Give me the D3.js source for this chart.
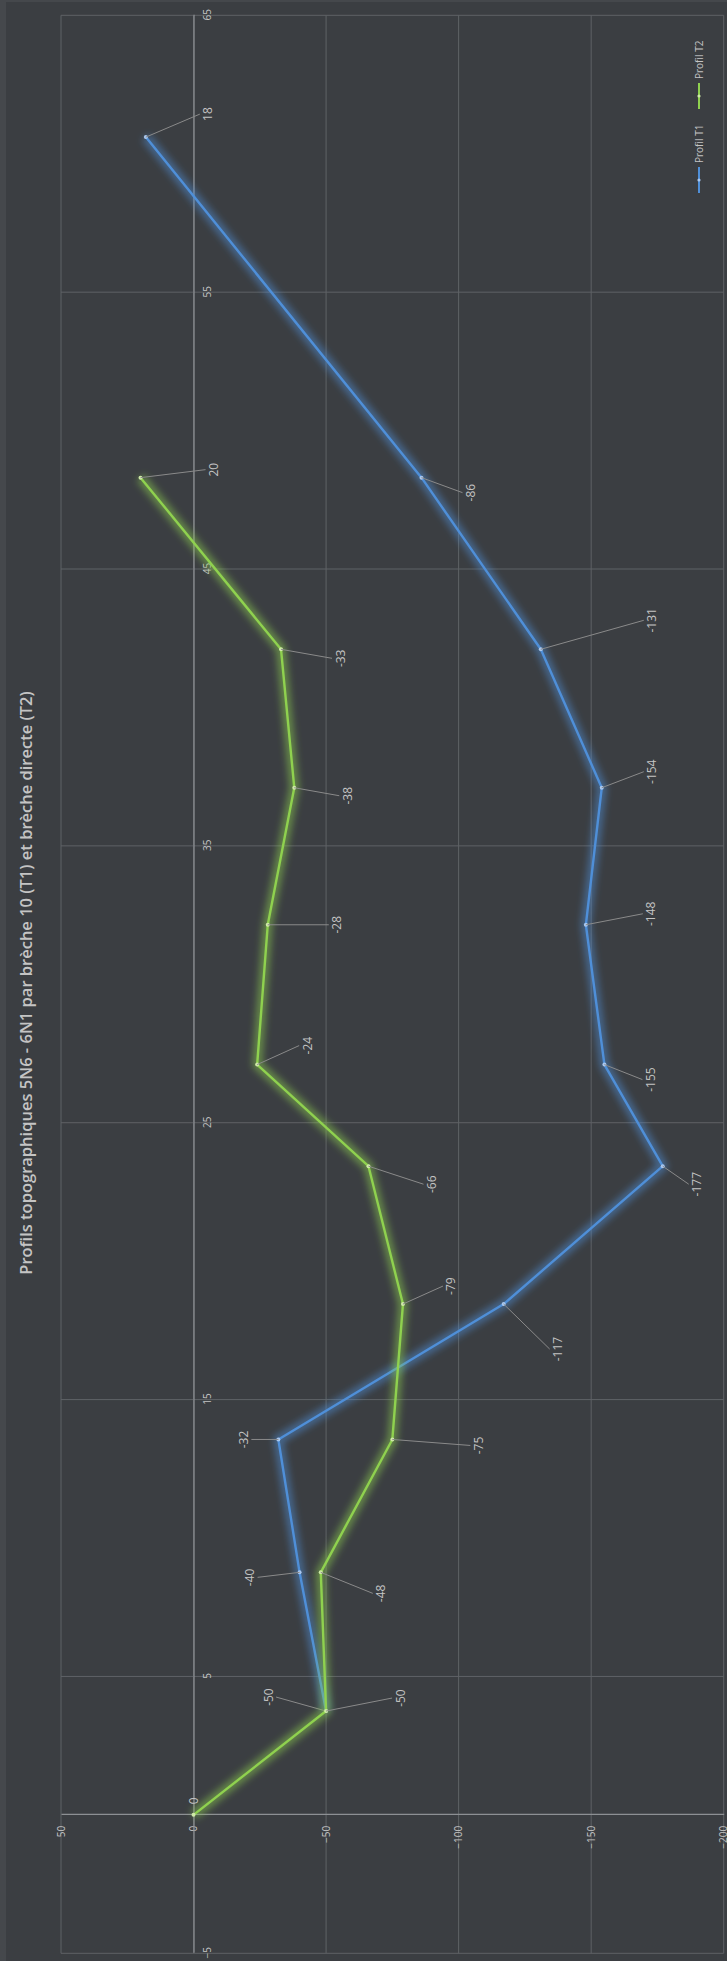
<!DOCTYPE html>
<html>
<head>
<meta charset="utf-8">
<script src="https://cdn.jsdelivr.net/npm/d3@7"></script>
<style>
  body { margin: 0; background: #45484c; }
  svg { display: block; }
  text { font-family: "Open Sans", sans-serif; fill: #c4c4c4; }
</style>
</head>
<body>
<div id="chart"></div>
<script>
// Profils topographiques - chart drawn landscape, then turned a quarter turn

const title = "Profils topographiques 5N6 - 6N1 par brèche 10 (T1) et brèche directe (T2)";

const t1Dist = [3.75, 8.76, 13.56, 18.45, 23.43, 27.1, 32.15, 37.1, 42.1, 48.3, 60.6];
const t1Elev = [-50, -40, -32, -117, -177, -155, -148, -154, -131, -86, 18];

const t2Dist = [0, 3.75, 8.76, 13.56, 18.45, 23.43, 27.1, 32.15, 37.1, 42.1, 48.3];
const t2Elev = [0, -50, -48, -75, -79, -66, -24, -28, -38, -33, 20];

const distTicks = [-5, 5, 15, 25, 35, 45, 55, 65];
const elevTicks = [50, 0, -50, -100, -150, -200];

// where each data label sits, as seen on the page (dx, dy from its point)
const t1LabelOffsets = [[-58, -14], [-50, 5], [-35, 0], [54, 45], [34, 18], [46, 15], [65, -11], [50, -16], [111, -29], [49, 15], [62, -23]];
const t2LabelOffsets = [[0, -14], [74, -13], [60, 21], [86, 6], [48, -18], [63, 18], [50, -19], [69, 0], [53, 8], [59, 9], [73, -8]];

const pageW = 727;
const pageH = 1961;

const svg = d3.select("#chart")
    .append("svg")
    .attr("width", pageW)
    .attr("height", pageH);

svg.append("rect")
    .attr("x", 6).attr("y", 2)
    .attr("width", pageW - 6).attr("height", pageH - 2)
    .attr("fill", "#3b3e42");

const defs = svg.append("defs");
defs.append("filter")
    .attr("id", "glow")
    .attr("filterUnits", "userSpaceOnUse")
    .attr("x", -100).attr("y", -100)
    .attr("width", 2200).attr("height", 1000)
    .append("feGaussianBlur")
    .attr("stdDeviation", 3.5);

// local frame: x runs along page height (bottom -> top), y along page width
const g = svg.append("g")
    .attr("transform", `translate(0, ${pageH}) rotate(-90)`);

const x = d3.scaleLinear().domain([-5, 65]).range([7.7, 1945.7]);
const y = d3.scaleLinear().domain([50, -200]).range([61, 723.7]);

// grid
g.append("g")
    .selectAll("line")
    .data(distTicks)
    .join("line")
    .attr("x1", d => x(d)).attr("x2", d => x(d))
    .attr("y1", y(50)).attr("y2", y(-200))
    .attr("stroke", "#5f6266")
    .attr("stroke-width", 1);

g.append("g")
    .selectAll("line")
    .data(elevTicks)
    .join("line")
    .attr("x1", x(-5)).attr("x2", x(65))
    .attr("y1", d => y(d)).attr("y2", d => y(d))
    .attr("stroke", "#5f6266")
    .attr("stroke-width", 1);

// axes crossing at 0
const yAxis = g.append("g")
    .attr("transform", `translate(${x(0)}, 0)`)
    .call(d3.axisLeft(y).tickValues(elevTicks).tickSize(0).tickPadding(11));

const xAxis = g.append("g")
    .attr("transform", `translate(0, ${y(0)})`)
    .call(d3.axisBottom(x).tickValues(distTicks).tickSize(0).tickPadding(10));

[xAxis, yAxis].forEach(ax => {
    ax.select(".domain").attr("stroke", "#8d9094").attr("stroke-width", 1.2);
    ax.selectAll("text")
        .style("font-family", "'Open Sans', sans-serif")
        .style("font-size", "10px")
        .attr("fill", "#bdbdbd");
});

// title
g.append("text")
    .attr("x", 978)
    .attr("y", 25)
    .attr("text-anchor", "middle")
    .attr("dominant-baseline", "central")
    .style("font-size", "16.5px")
    .style("font-weight", 600)
    .attr("fill", "#d4d4d4")
    .text(title);

const line = d3.line()
    .x(d => x(d.dist))
    .y(d => y(d.elev));

const series = [
    {name: "Profil T1", color: "#4f8fd8", marker: "#a9c7ee", dist: t1Dist, elev: t1Elev, offsets: t1LabelOffsets},
    {name: "Profil T2", color: "#8fd14f", marker: "#cfeaa8", dist: t2Dist, elev: t2Elev, offsets: t2LabelOffsets}
];

series.forEach(s => {
    const pts = s.dist.map((d, i) => ({dist: d, elev: s.elev[i], off: s.offsets[i]}));

    g.append("path")
        .datum(pts)
        .attr("fill", "none")
        .attr("stroke", s.color)
        .attr("stroke-opacity", 0.5)
        .attr("stroke-width", 10)
        .attr("stroke-linejoin", "round")
        .attr("filter", "url(#glow)")
        .attr("d", line);

    g.append("path")
        .datum(pts)
        .attr("fill", "none")
        .attr("stroke", s.color)
        .attr("stroke-width", 2.4)
        .attr("stroke-linejoin", "round")
        .attr("d", line);

    g.append("g")
        .selectAll("circle")
        .data(pts)
        .join("circle")
        .attr("cx", d => x(d.dist))
        .attr("cy", d => y(d.elev))
        .attr("r", 2)
        .attr("fill", s.marker);

    // leader lines: page dx -> local y, page dy -> local -x
    const labels = g.append("g");
    pts.forEach(d => {
        const px = x(d.dist), py = y(d.elev);
        const lx = px - d.off[1];
        const ly = py + d.off[0];
        if (Math.abs(d.off[0]) > 20) {
            labels.append("line")
                .attr("x1", px).attr("y1", py)
                .attr("x2", lx).attr("y2", ly - Math.sign(d.off[0]) * 8)
                .attr("stroke", "#8a8a8a")
                .attr("stroke-width", 1);
        }
        labels.append("text")
            .attr("x", lx)
            .attr("y", ly)
            .attr("text-anchor", "middle")
            .attr("dominant-baseline", "central")
            .style("font-size", "12px")
            .attr("fill", "#c4c4c4")
            .text(d.elev);
    });
});

// legend
const legend = g.append("g").attr("transform", "translate(1768, 699)");
series.forEach((s, i) => {
    const item = legend.append("g").attr("transform", `translate(${i * 84}, 0)`);
    item.append("line")
        .attr("x1", 0).attr("x2", 26)
        .attr("stroke", s.color)
        .attr("stroke-width", 2);
    item.append("circle")
        .attr("cx", 13).attr("r", 1.6)
        .attr("fill", s.marker);
    item.append("text")
        .attr("x", 30)
        .attr("dominant-baseline", "central")
        .style("font-size", "10px")
        .attr("fill", "#bdbdbd")
        .text(s.name);
});
</script>
</body>
</html>
